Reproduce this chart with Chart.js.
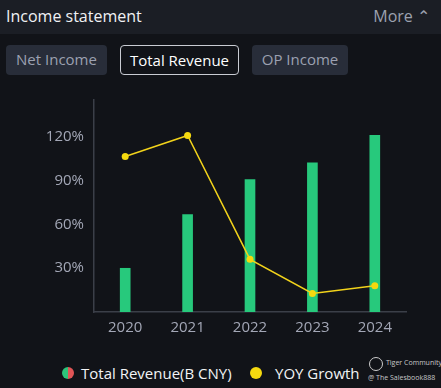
<!DOCTYPE html>
<html lang="en">
<head>
<meta charset="UTF-8">
<title>Income statement</title>
<script src="https://cdn.jsdelivr.net/npm/chart.js"></script>
<style>
  html, body { margin: 0; padding: 0; }
  body { width: 441px; height: 388px; background: #111318; font-family: "Open Sans", "Noto Sans", sans-serif; position: relative; overflow: hidden; color: #fff; }
  .header { position: absolute; left: 0; top: 0; width: 441px; height: 34px; background: #1b1e25; }
  .title { position: absolute; left: 6px; top: 5px; font-size: 16px; color: #f0f1f4; }
  .more { position: absolute; right: 11px; top: 5px; font-size: 16px; color: #9ca1af; }
  .tab { position: absolute; top: 45px; height: 30px; line-height: 29px; box-sizing: border-box; border-radius: 4px; font-size: 15px; text-align: center; }
  .tab.off { background: #282d39; color: #9ca1b1; }
  .tab.on { border: 1px solid #c9ccd3; color: #fff; background: #111318; }
  #wrap { position: absolute; left: 0; top: 90px; width: 441px; height: 260px; }
  .legend { position: absolute; top: 363px; font-size: 15px; color: #f2f3f5; white-space: nowrap; }
  .dot { position: absolute; width: 12px; height: 12px; border-radius: 50%; top: 367px; }
  .wm { position: absolute; top: 358px; font-size: 7px; color: #c8c8c8; line-height: 10px; white-space: nowrap; }
  .logo { position: absolute; left: 369px; top: 357px; width: 12px; height: 12px; border: 1px solid #ccc; border-radius: 50%; }
</style>
</head>
<body>
  <div class="header">
    <div class="title">Income statement</div>
    <div class="more">More &#8963;</div>
  </div>
  <div class="tab off" style="left:6px;width:101px;">Net Income</div>
  <div class="tab on" style="left:120px;width:119px;">Total Revenue</div>
  <div class="tab off" style="left:252px;width:96px;">OP Income</div>

  <div id="wrap"><canvas id="chart"></canvas></div>

  <div class="dot" style="left:62px;background:linear-gradient(90deg,#2cc47a 50%,#e05556 50%);"></div>
  <div class="legend" style="left:81px;">Total Revenue(B CNY)</div>
  <div class="dot" style="left:250px;background:#f5d90f;"></div>
  <div class="legend" style="left:275px;">YOY Growth</div>
  <div class="logo"></div>
  <div class="wm" style="left:386px;">Tiger Community</div>
  <div class="wm" style="left:368px;top:373px;">@ The Salesbook888</div>

  <script>
    const years = ['2020', '2021', '2022', '2023', '2024'];
    const revenue = [29.9, 66.6, 90.5, 102.1, 120.8];
    const yoyGrowth = [106.4, 120.7, 36.0, 12.7, 18.0];
    const yTicks = [30, 60, 90, 120];

    new Chart(document.getElementById('chart'), {
      data: {
        labels: years,
        datasets: [
          {
            type: 'line',
            label: 'YOY Growth',
            data: yoyGrowth,
            borderColor: '#f2d31b',
            backgroundColor: '#f5d90f',
            borderWidth: 1.5,
            pointRadius: 3.5,
            pointBorderWidth: 0,
            tension: 0
          },
          {
            type: 'bar',
            label: 'Total Revenue(B CNY)',
            data: revenue,
            backgroundColor: '#27c97c',
            barThickness: 10
          }
        ]
      },
      options: {
        responsive: true,
        maintainAspectRatio: false,
        animation: false,
        layout: { padding: { top: 10, right: 35, left: 0, bottom: 0 } },
        plugins: { legend: { display: false }, tooltip: { enabled: false } },
        scales: {
          x: {
            grid: { display: false, drawTicks: false },
            border: { color: '#3b3f48', width: 1.5 },
            ticks: { color: '#a3a7b6', font: { size: 15, family: 'Open Sans' }, padding: 7 },
            afterFit: s => { s.height = 38; s.paddingLeft = 0; s.paddingRight = 0; }
          },
          y: {
            min: 0,
            max: 145,
            grid: { display: false, drawTicks: false },
            border: { color: '#3b3f48', width: 1.5 },
            afterBuildTicks: s => { s.ticks = yTicks.map(v => ({ value: v })); },
            ticks: {
              color: '#a3a7b6',
              font: { size: 15, family: 'Open Sans' },
              padding: 10,
              callback: v => v + '%'
            },
            afterFit: s => { s.width = 94; s.paddingTop = 0; s.paddingBottom = 0; }
          }
        }
      }
    });
  </script>
</body>
</html>
